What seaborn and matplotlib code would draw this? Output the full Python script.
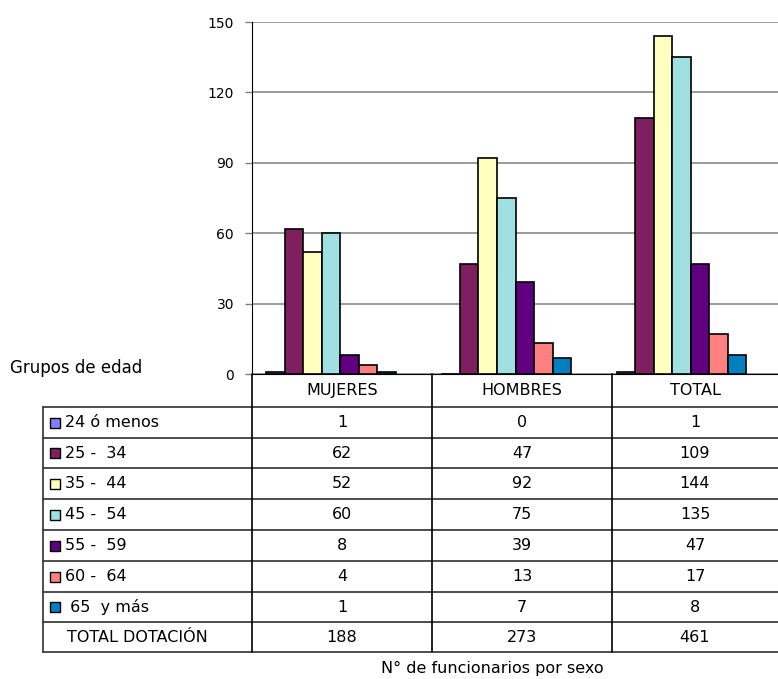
import pandas as pd
import seaborn as sns
import matplotlib.pyplot as plt
from matplotlib.patches import Rectangle

# datos de la tabla
sexos = ['MUJERES', 'HOMBRES', 'TOTAL']
grupos = ['24 ó menos', '25 -  34', '35 -  44', '45 -  54', '55 -  59', '60 -  64', ' 65  y más']
mujeres = [1, 62, 52, 60, 8, 4, 1]
hombres = [0, 47, 92, 75, 39, 13, 7]
total = [1, 109, 144, 135, 47, 17, 8]
total_dotacion = [188, 273, 461]
colores = ['#8080FF', '#7F1F5F', '#FFFFC0', '#A0E0E0', '#600080', '#FF8080', '#0080C0']

df = pd.DataFrame({
    'sexo': [s for s in sexos for _ in grupos],
    'grupo': grupos * 3,
    'n': mujeres + hombres + total,
})

sns.set_style('white')
plt.rcParams['font.family'] = ['DejaVu Sans']
plt.rcParams['text.color'] = 'black'
plt.rcParams['ytick.color'] = 'black'

W, H = 778, 679
fig = plt.figure(figsize=(W / 100, H / 100), dpi=100)

# === grafico de barras ===
x0, x1, ytop, ybot = 252, 778, 22, 374
ax = fig.add_axes([x0 / W, 1 - ybot / H, (x1 - x0) / W, (ybot - ytop) / H])
sns.barplot(data=df, x='sexo', y='n', hue='grupo', palette=colores, order=sexos,
            hue_order=grupos, width=0.74, gap=0, saturation=1, edgecolor='black',
            linewidth=1.2, legend=False, ax=ax, zorder=3)
ax.set_ylim(0, 150)
ax.set_xlim(-0.45, 2.55)
ax.set_yticks(range(0, 151, 30))
ax.yaxis.grid(True, color='#808080', linewidth=1.1, zorder=0)
ax.set_axisbelow(True)
for s in ['top', 'right']:
    ax.spines[s].set_visible(False)
ax.spines['left'].set_color('black')
ax.spines['bottom'].set_color('black')
ax.set_xticks([])
ax.set_xlabel('')
ax.set_ylabel('')
ax.tick_params(axis='y', left=True, length=5, width=1, color='#808080', labelsize=10, pad=8)

# === tabla de datos ===
tb = fig.add_axes([0, 0, 1, 1])
tb.set_xlim(0, W)
tb.set_ylim(H, 0)
tb.axis('off')

col_x = [43, 252, 432, 612, 778]
row_y = [374, 407, 438, 468, 499, 530, 561, 592, 622, 652]
lc = '#303030'
for y in row_y[1:]:
    tb.plot([col_x[0], col_x[-1]], [y, y], color=lc, lw=1.2)
tb.plot([col_x[0], col_x[0]], [row_y[1], row_y[-1]], color=lc, lw=1.2)
for x in col_x[1:4]:
    tb.plot([x, x], [row_y[0], row_y[-1]], color='black', lw=1.2)

fs = 11.5
for j, s in enumerate(sexos):
    cx = (col_x[j + 1] + col_x[j + 2]) / 2
    tb.text(cx, (row_y[0] + row_y[1]) / 2, s, ha='center', va='center', fontsize=fs)

valores = [mujeres, hombres, total]
for i, g in enumerate(grupos):
    cy = (row_y[i + 1] + row_y[i + 2]) / 2
    tb.add_patch(Rectangle((50, cy - 5), 10, 10, facecolor=colores[i], edgecolor='black', lw=1))
    tb.text(65, cy, g, ha='left', va='center', fontsize=fs)
    for j in range(3):
        cx = (col_x[j + 1] + col_x[j + 2]) / 2
        tb.text(cx, cy, str(valores[j][i]), ha='center', va='center', fontsize=fs)

cy = (row_y[-2] + row_y[-1]) / 2
tb.text(67, cy, 'TOTAL DOTACIÓN', ha='left', va='center', fontsize=fs)
for j in range(3):
    cx = (col_x[j + 1] + col_x[j + 2]) / 2
    tb.text(cx, cy, str(total_dotacion[j]), ha='center', va='center', fontsize=fs)

tb.text(10, 368, 'Grupos de edad', ha='left', va='center', fontsize=12)
tb.text(492, 668, 'N° de funcionarios por sexo', ha='center', va='center', fontsize=11.5)

fig.savefig('out.png', dpi=100)
